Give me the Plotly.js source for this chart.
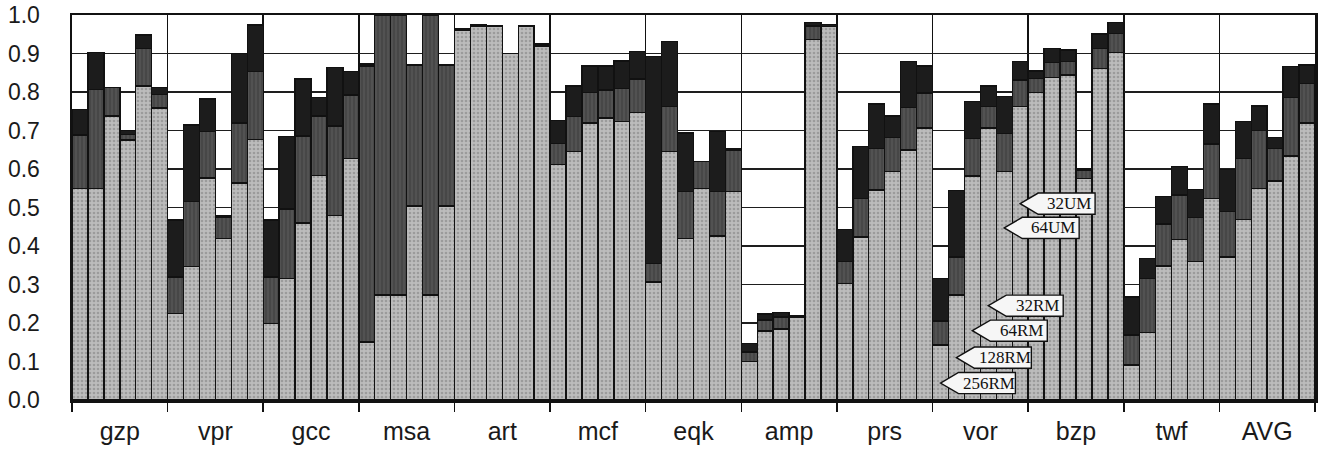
<!DOCTYPE html>
<html>
<head>
<meta charset="utf-8">
<script src="https://cdn.plot.ly/plotly-3.0.1.min.js"></script>
<style>
  html, body { margin: 0; padding: 0; background: #ffffff; }
  #chart { width: 1322px; height: 449px; }
</style>
</head>
<body>
<div id="chart"></div>
<script>
// Benchmarks (groups) and the six configurations drawn inside each group
const benchmarks = ['gzp', 'vpr', 'gcc', 'msa', 'art', 'mcf', 'eqk', 'amp', 'prs', 'vor', 'bzp', 'twf', 'AVG'];
const configs = ['256RM', '128RM', '64RM', '32RM', '64UM', '32UM'];

// Cumulative level reached by the light (bottom) segment, per bar, group by group
const lightTop = [
  0.550, 0.550, 0.738, 0.675, 0.816, 0.758,   // gzp
  0.225, 0.346, 0.577, 0.420, 0.564, 0.677,   // vpr
  0.199, 0.315, 0.460, 0.583, 0.480, 0.628,   // gcc
  0.151, 0.273, 0.273, 0.504, 0.273, 0.504,   // msa
  0.961, 0.970, 0.971, 0.900, 0.971, 0.919,   // art
  0.612, 0.645, 0.719, 0.733, 0.723, 0.746,   // mcf
  0.307, 0.645, 0.420, 0.550, 0.426, 0.541,   // eqk
  0.100, 0.179, 0.184, 0.214, 0.937, 0.970,   // amp
  0.303, 0.423, 0.545, 0.593, 0.649, 0.706,   // prs
  0.143, 0.273, 0.582, 0.706, 0.593, 0.762,   // vor
  0.798, 0.838, 0.844, 0.576, 0.861, 0.902,   // bzp
  0.091, 0.175, 0.348, 0.417, 0.359, 0.524,   // twf
  0.371, 0.469, 0.550, 0.569, 0.634, 0.720    // AVG
];
// Cumulative level reached by the middle (dark grey) segment
const midTop = [
  0.688, 0.807, 0.811, 0.690, 0.913, 0.794,
  0.320, 0.515, 0.697, 0.475, 0.719, 0.853,
  0.320, 0.496, 0.686, 0.738, 0.712, 0.792,
  0.868, 1.000, 1.000, 0.870, 1.000, 0.870,
  0.961, 0.970, 0.971, 0.900, 0.971, 0.919,
  0.667, 0.736, 0.798, 0.805, 0.809, 0.834,
  0.355, 0.762, 0.541, 0.619, 0.541, 0.649,
  0.125, 0.208, 0.216, 0.214, 0.971, 0.970,
  0.359, 0.524, 0.654, 0.682, 0.760, 0.797,
  0.205, 0.371, 0.680, 0.762, 0.693, 0.831,
  0.835, 0.876, 0.879, 0.597, 0.913, 0.952,
  0.169, 0.316, 0.457, 0.532, 0.474, 0.665,
  0.489, 0.628, 0.700, 0.654, 0.786, 0.822
];
// Total bar height (top of the black segment)
const total = [
  0.755, 0.902, 0.811, 0.700, 0.948, 0.811,
  0.468, 0.714, 0.782, 0.480, 0.900, 0.974,
  0.468, 0.684, 0.834, 0.785, 0.863, 0.853,
  0.873, 1.000, 1.000, 0.872, 1.000, 0.872,
  0.965, 0.974, 0.971, 0.900, 0.971, 0.925,
  0.726, 0.816, 0.868, 0.868, 0.881, 0.905,
  0.892, 0.931, 0.694, 0.619, 0.697, 0.652,
  0.147, 0.223, 0.227, 0.218, 0.980, 0.975,
  0.443, 0.658, 0.769, 0.738, 0.879, 0.868,
  0.316, 0.544, 0.775, 0.816, 0.788, 0.879,
  0.855, 0.913, 0.909, 0.602, 0.951, 0.980,
  0.268, 0.368, 0.528, 0.606, 0.547, 0.769,
  0.599, 0.723, 0.764, 0.682, 0.866, 0.870
];

// Callout labels: which group they annotate and the level each pointer touches
const calloutGroup = 'vor';
const calloutLevel = [0.044, 0.110, 0.180, 0.245, 0.447, 0.510]; // same order as configs

const yTicks = [0.0, 0.1, 0.2, 0.3, 0.4, 0.5, 0.6, 0.7, 0.8, 0.9, 1.0];

// ---- build ----
const nC = configs.length;
const xs = [], segLight = [], segMid = [], segTop = [], hover = [];
benchmarks.forEach((b, g) => {
  configs.forEach((c, k) => {
    const i = g * nC + k;
    xs.push(i);
    segLight.push(lightTop[i]);
    segMid.push(Math.max(0, midTop[i] - lightTop[i]));
    segTop.push(Math.max(0, total[i] - midTop[i]));
    hover.push(b + ' ' + c);
  });
});

const outline = { color: '#111', width: 1.4 };
const traces = [
  { type: 'bar', x: xs, y: segLight, text: hover, hoverinfo: 'text+y', textposition: 'none',
    marker: { color: '#bcbcbc', line: outline,
      pattern: { shape: '.', fillmode: 'overlay', fgcolor: '#7a7a7a', size: 4, solidity: 0.35 } } },
  { type: 'bar', x: xs, y: segMid, text: hover, hoverinfo: 'text+y', textposition: 'none',
    marker: { color: '#525252', line: outline,
      pattern: { shape: '|', fillmode: 'overlay', fgcolor: '#363636', size: 4, solidity: 0.4 } } },
  { type: 'bar', x: xs, y: segTop, text: hover, hoverinfo: 'text+y', textposition: 'none',
    marker: { color: '#1c1c1c', line: outline } }
];

const centers = benchmarks.map((b, g) => g * nC + (nC - 1) / 2);
const bounds = [];
for (let g = 0; g <= benchmarks.length; g++) bounds.push(g * nC - 0.5);

// callouts (pentagon pointing left) built in data units
const shapes = [];
const annotations = [];
const gIdx = benchmarks.indexOf(calloutGroup);
const head = 1.13, len = 4.7, halfH = 0.0275;
configs.forEach((c, k) => {
  const x0 = gIdx * nC + k;
  const y0 = calloutLevel[k];
  shapes.push({
    type: 'path', xref: 'x', yref: 'y', layer: 'above',
    path: `M ${x0},${y0} L ${x0 + head},${y0 + halfH} L ${x0 + len},${y0 + halfH} L ${x0 + len},${y0 - halfH} L ${x0 + head},${y0 - halfH} Z`,
    fillcolor: '#f6f6f6', line: { color: '#111', width: 1.4 }
  });
  annotations.push({
    xref: 'x', yref: 'y', x: x0 + (head + len) / 2 + 0.15, y: y0, text: c, showarrow: false,
    font: { family: 'Liberation Serif, serif', size: 17, color: '#111' }, xanchor: 'center', yanchor: 'middle'
  });
});

const layout = {
  width: 1322, height: 449,
  margin: { l: 72, r: 7, t: 15, b: 49, pad: 0 },
  paper_bgcolor: '#ffffff', plot_bgcolor: '#ffffff',
  barmode: 'stack', bargap: 0, showlegend: false,
  font: { family: 'Liberation Sans, Arial, sans-serif', color: '#1a1a1a' },
  xaxis: {
    range: [-0.5, benchmarks.length * nC - 0.5],
    tickmode: 'array', tickvals: centers, ticktext: benchmarks,
    ticks: '', showgrid: false, zeroline: false,
    tickfont: { size: 25, family: 'Liberation Sans, Arial, sans-serif', color: '#1a1a1a' },
    ticklabelstandoff: 7,
    showline: true, linecolor: '#111', linewidth: 2.5, mirror: true,
    minor: { tickmode: 'array', tickvals: bounds, ticks: 'outside', ticklen: 9, tickwidth: 1.5, tickcolor: '#111',
             showgrid: true, gridcolor: '#111', gridwidth: 1.5 }
  },
  yaxis: {
    range: [0, 1.0], tickmode: 'array', tickvals: yTicks, tickformat: '.1f',
    ticks: '', showgrid: true, gridcolor: '#1e1e1e', gridwidth: 1.4, zeroline: false,
    tickfont: { size: 23, family: 'Liberation Sans, Arial, sans-serif', color: '#1a1a1a' },
    ticklabelstandoff: 25,
    showline: true, linecolor: '#111', linewidth: 2.5, mirror: true
  },
  shapes: shapes,
  annotations: annotations
};

Plotly.newPlot('chart', traces, layout, { displayModeBar: false, staticPlot: true });
</script>
</body>
</html>
